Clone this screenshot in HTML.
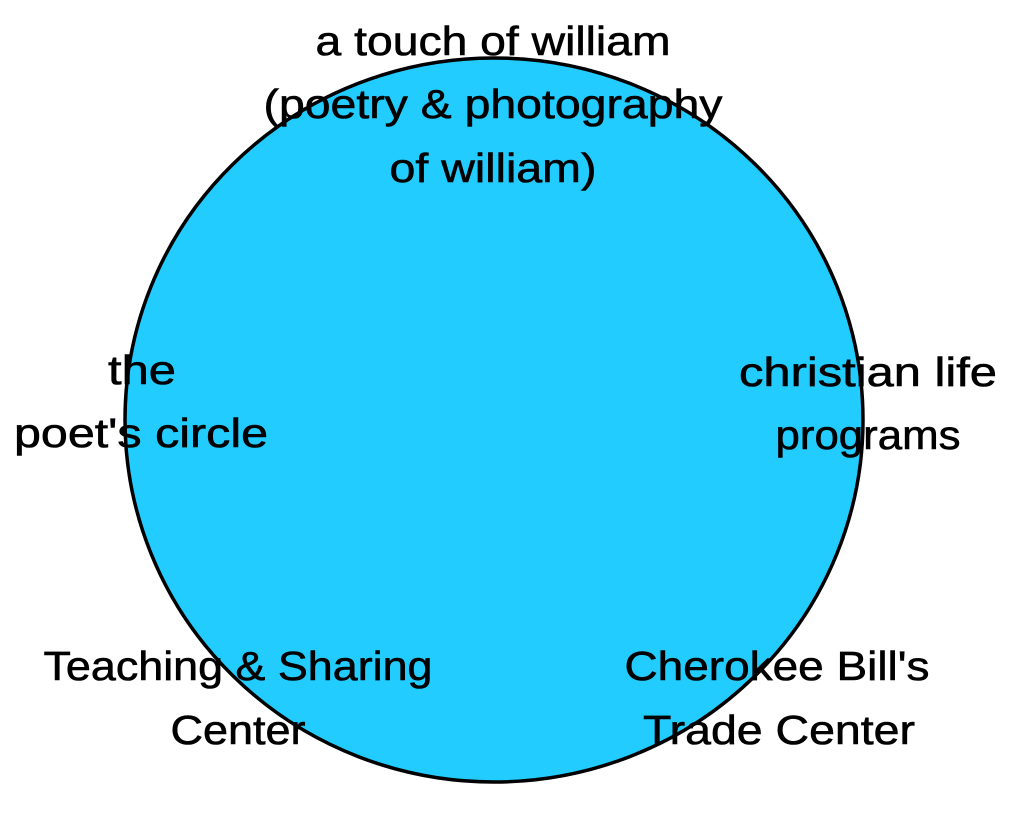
<!DOCTYPE html>
<html><head><meta charset="utf-8"><style>
html,body{margin:0;padding:0;background:#fff;}
svg{display:block;}
text{font-family:"Liberation Sans",sans-serif;font-size:41px;fill:#000;stroke:#000;stroke-width:0.6;text-anchor:middle;}
</style></head><body>
<svg width="1011" height="816" viewBox="0 0 1011 816">
<ellipse cx="494" cy="420" rx="369" ry="362" fill="#22CCFF" stroke="#000" stroke-width="3.5"/>
<text x="493" y="55" textLength="355" lengthAdjust="spacingAndGlyphs">a touch of william</text>
<text x="493" y="118" textLength="459" lengthAdjust="spacingAndGlyphs">(poetry &amp; photography</text>
<text x="493" y="182" textLength="207" lengthAdjust="spacingAndGlyphs">of william)</text>
<text x="142" y="384" textLength="68" lengthAdjust="spacingAndGlyphs">the</text>
<text x="141" y="447" textLength="254" lengthAdjust="spacingAndGlyphs">poet's circle</text>
<text x="868" y="386" textLength="258" lengthAdjust="spacingAndGlyphs">christian life</text>
<text x="868" y="449" textLength="185" lengthAdjust="spacingAndGlyphs">programs</text>
<text x="238" y="680" textLength="389" lengthAdjust="spacingAndGlyphs">Teaching &amp; Sharing</text>
<text x="238" y="744" textLength="135" lengthAdjust="spacingAndGlyphs">Center</text>
<text x="777" y="680" textLength="305" lengthAdjust="spacingAndGlyphs">Cherokee Bill's</text>
<text x="779" y="744" textLength="272" lengthAdjust="spacingAndGlyphs">Trade Center</text>
</svg>
</body></html>
